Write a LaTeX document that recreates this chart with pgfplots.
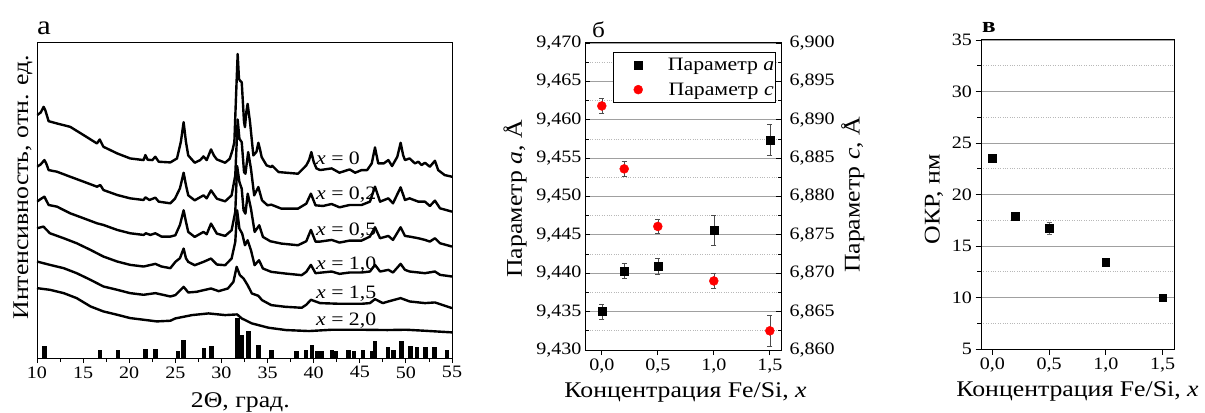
\documentclass[border=0pt]{standalone}
\usepackage{fontspec}
\setmainfont{Liberation Serif}[FakeStretch=1.15]
\usepackage{pgfplots}
\pgfplotsset{compat=1.18}
\pgfplotsset{/pgf/number format/assume math mode=true}
\newcommand\tickfont{\fontsize{17.5}{20}\selectfont}
\newcommand\labfont{\fontsize{22.5}{26}\selectfont}
\newcommand\curvefont{\fontsize{19}{22}\selectfont}
\newcommand\legfont{\fontsize{19}{22}\selectfont}
\definecolor{gmaj}{HTML}{A0A0A0}
\definecolor{gmin}{HTML}{B8B8B8}
\begin{document}
\begin{tikzpicture}
\path[use as bounding box] (0bp,0bp) rectangle (1205bp,413bp);
% ---------------- panel a ----------------
\begin{axis}[at={(37bp,55bp)}, anchor=south west, scale only axis,
  width=415bp, height=316bp, xmin=10, xmax=55, ymin=0, ymax=950,
  xtick={10,15,...,55}, minor x tick num=1, ytick=\empty,
  tick align=outside, xtick pos=bottom,
  major tick length=5bp, minor tick length=4bp,
  axis line style={line width=0.9bp},
  every tick/.style={black, line width=0.8bp},
  tick label style={font=\tickfont},
  xlabel={2Θ, град.}, ylabel={Интенсивность, отн. ед.},
  xlabel style={font=\labfont, at={(axis description cs:0.49,-0.141)}, anchor=center},
  ylabel style={font=\labfont, at={(axis description cs:-0.034,0.54)}, anchor=center},
]
% x = 0
\addplot[black, line width=2.4bp, line join=round] coordinates {
(10.0,730)(10.4,738)(10.72,755)(10.9,745)(11.26,712)(12.17,705)(13.6,695)(15.06,670)
(16.5,645)(16.8,657)(17.2,635)(18.7,615)(20.1,600)(21.56,595)(21.75,610)(22.0,596)
(22.5,595)(22.83,605)(23.2,590)(24.46,588)(25.18,600)(25.6,650)(25.9,709)(26.15,650)
(26.4,609)(27.1,587)(27.7,595)(28.05,606)(28.4,595)(28.87,627)(29.2,608)(29.5,597)
(30.4,587)(30.9,599)(31.2,625)(31.4,649)(31.6,800)(31.76,914)(31.9,840)(32.0,834)
(32.2,829)(32.45,709)(32.55,694)(32.7,740)(32.84,764)(33.0,730)(33.1,709)(33.46,609)
(33.8,620)(34.0,647)(34.2,625)(34.36,604)(34.9,579)(35.4,574)(35.5,578)(36.2,559)
(38.3,554)(39.2,579)(39.5,595)(39.75,619)(40.0,590)(40.3,570)(40.7,565)(41.95,570)
(42.8,557)(43.9,567)(44.5,557)(45.2,565)(45.8,565)(46.3,585)(46.65,633)(47.0,585)
(47.6,585)(48.1,595)(48.5,577)(49.07,605)(49.43,647)(49.7,610)(49.9,595)(50.4,600)
(50.98,585)(51.35,590)(51.7,580)(52.07,587)(52.6,575)(53.15,593)(53.5,565)(54.2,550)(55.0,545)};
% x = 0.2
\addplot[black, line width=2.4bp, line join=round] coordinates {
(10.0,575)(10.4,582)(10.8,595)(11.0,585)(11.26,565)(12.17,560)(13.6,545)(15.06,530)
(16.5,515)(16.87,520)(17.2,505)(18.7,490)(20.1,480)(21.56,475)(21.75,483)(22.2,475)
(22.83,482)(23.2,470)(24.46,465)(24.96,479)(25.5,510)(25.9,557)(26.15,520)(26.4,489)
(27.1,474)(28.05,489)(28.4,480)(28.87,504)(29.5,479)(30.4,471)(31.1,489)(31.5,549)
(31.76,717)(31.95,659)(32.2,649)(32.45,559)(32.6,554)(32.9,619)(33.2,569)(33.55,489)
(34.0,514)(34.4,474)(35.0,459)(35.4,461)(36.5,449)(38.3,449)(39.2,464)(39.7,494)
(40.2,459)(41.0,457)(41.95,463)(42.8,453)(43.9,460)(45.2,460)(46.1,470)(46.65,515)
(47.2,470)(48.1,480)(48.6,465)(49.43,513)(49.9,475)(50.4,480)(51.35,470)(52.07,470)
(52.6,457)(53.15,473)(53.7,450)(55.0,440)};
% x = 0.5
\addplot[black, line width=2.4bp, line join=round] coordinates {
(10.0,470)(10.4,478)(10.8,485)(11.26,460)(12.17,455)(13.6,435)(15.06,420)(16.5,405)
(17.2,400)(18.7,385)(20.1,375)(21.56,370)(21.8,375)(22.3,370)(22.83,375)(23.5,365)
(24.46,365)(25.0,369)(25.5,400)(25.9,444)(26.15,410)(26.4,379)(27.1,364)(28.05,379)
(28.4,372)(28.87,404)(29.5,374)(30.4,367)(31.1,384)(31.5,439)(31.7,577)(31.95,529)
(32.2,509)(32.4,444)(32.6,434)(32.85,494)(33.2,449)(33.6,379)(34.1,399)(34.5,364)
(35.3,351)(36.5,344)(38.3,339)(39.2,351)(39.7,385)(40.2,350)(40.7,350)(41.95,355)
(42.8,347)(43.9,353)(45.2,353)(46.1,365)(46.65,393)(47.2,360)(48.1,367)(48.6,355)
(49.43,393)(49.9,367)(50.4,365)(51.35,360)(52.07,355)(52.6,350)(53.15,360)(53.7,345)(55.0,335)};
% x = 1.0
\addplot[black, line width=2.4bp, line join=round] coordinates {
(10.0,390)(10.7,395)(11.4,375)(12.9,360)(14.3,345)(15.8,325)(17.2,305)(18.7,290)
(20.1,280)(21.56,275)(22.83,283)(23.5,275)(24.46,270)(25.0,289)(25.5,300)(25.9,329)
(26.15,300)(26.4,289)(27.1,279)(28.05,289)(28.87,299)(29.5,281)(30.4,279)(31.1,299)
(31.5,349)(31.7,444)(31.95,389)(32.25,374)(32.55,339)(32.84,354)(33.2,324)(33.6,279)
(34.07,294)(34.5,269)(35.4,259)(36.9,254)(38.7,249)(39.2,259)(39.7,280)(40.2,255)
(41.95,260)(42.8,253)(43.9,257)(45.2,257)(46.1,260)(46.65,280)(47.2,260)(48.1,265)
(48.6,257)(49.43,283)(49.9,265)(50.4,260)(52.07,255)(53.15,260)(53.7,250)(55.0,245)};
% x = 1.5
\addplot[black, line width=2.4bp, line join=round] coordinates {
(10.0,290)(11.4,280)(12.9,270)(14.3,255)(15.8,235)(17.2,215)(18.7,205)(20.1,195)
(21.56,190)(22.83,195)(24.46,185)(25.0,189)(25.9,214)(26.4,197)(27.3,199)(28.87,209)
(29.7,201)(30.7,209)(31.3,229)(31.65,274)(32.0,249)(32.4,239)(32.84,219)(33.3,194)
(34.0,187)(34.4,174)(35.4,159)(36.9,154)(38.7,151)(39.2,160)(39.7,175)(40.7,165)
(42.8,163)(45.2,163)(46.1,165)(46.65,177)(47.5,165)(48.1,170)(49.43,180)(50.4,170)
(52.07,165)(53.15,167)(55.0,150)};
% x = 2.0
\addplot[black, line width=2.4bp, line join=round] coordinates {
(10.0,210)(11.4,205)(12.9,195)(14.3,180)(15.8,155)(17.2,140)(18.7,130)(20.1,120)
(21.56,115)(23.0,110)(24.46,112)(25.0,119)(26.8,129)(28.6,134)(30.4,129)(31.7,131)
(32.2,119)(33.3,104)(35.1,91)(37.0,84)(39.5,81)(42.0,85)(45.0,85)(48.0,84)(50.0,85)
(52.0,82)(55.0,77)};
% reference bars
\addplot[ycomb, no marks, black, line width=4.6bp] coordinates {
(10.83,35)(16.81,25)(18.8,23)(21.77,28)(22.82,27)(25.3,22)(25.86,55)(28.1,29)(28.93,36)
(31.76,120)(32.19,70)(32.91,80)(34.0,40)(35.45,25)(38.17,20)(39.18,25)(39.8,40)
(40.34,22)(40.88,21)(41.97,25)(42.44,22)(43.78,25)(44.39,22)(45.33,25)(46.31,22)
(46.67,50)(48.05,32)(48.66,25)(49.5,52)(50.48,37)(51.2,33)(52.1,33)(53.12,33)(54.46,23)};
\node[anchor=base west, font=\curvefont, inner sep=0pt] at (axis cs:40.25,581) {\textit{x} = 0};
\node[anchor=base west, font=\curvefont, inner sep=0pt] at (axis cs:40.25,476) {\textit{x} = 0,2};
\node[anchor=base west, font=\curvefont, inner sep=0pt] at (axis cs:40.25,368) {\textit{x} = 0,5};
\node[anchor=base west, font=\curvefont, inner sep=0pt] at (axis cs:40.25,266) {\textit{x} = 1,0};
\node[anchor=base west, font=\curvefont, inner sep=0pt] at (axis cs:40.25,179) {\textit{x} = 1,5};
\node[anchor=base west, font=\curvefont, inner sep=0pt] at (axis cs:40.25,98) {\textit{x} = 2,0};
\end{axis}
\node[anchor=base west, inner sep=0pt, font=\fontsize{27}{30}\selectfont] at (37bp,378bp) {а};
% ---------------- panel b ----------------
\begin{axis}[at={(585bp,63bp)}, anchor=south west, scale only axis,
  width=196bp, height=307bp, xmin=-0.15, xmax=1.6, ymin=9.43, ymax=9.47,
  xtick={0,0.5,1,1.5},
  ytick={9.430,9.435,9.440,9.445,9.450,9.455,9.460,9.465,9.470},
  minor y tick num=1, ytick pos=left, xtick pos=bottom,
  ytick align=inside, xtick align=outside,
  major tick length=5bp, minor tick length=3.5bp,
  axis line style={line width=1bp},
  every tick/.style={black, line width=0.8bp},
  ymajorgrids, yminorgrids,
  major grid style={gmaj, line width=0.8bp},
  minor grid style={gmin, dotted, line width=0.7bp},
  tick label style={font=\tickfont},
  yticklabel style={/pgf/number format/.cd, fixed, fixed zerofill, precision=3, use comma},
  xticklabel style={/pgf/number format/.cd, fixed, fixed zerofill, precision=1, use comma},
  xlabel={Концентрация Fe/Si, \textit{x}}, ylabel={Параметр \textit{a}, Å},
  xlabel style={font=\labfont, at={(axis description cs:0.513,-0.138)}, anchor=center},
  ylabel style={font=\labfont, at={(axis description cs:-0.357,0.492)}, anchor=center},
]
\addplot[only marks, mark=square*, mark size=4bp, black, forget plot,
  error bars/.cd, y dir=both, y explicit,
  error bar style={line width=0.6bp, black!70},
  error mark options={rotate=90, mark size=2.5bp, line width=0.6bp, black!70}]
  table[x=x, y=y, y error=e] {
x y e
0.0 9.4350 0.00095
0.2 9.4403 0.0010
0.5 9.4409 0.0010
1.0 9.4456 0.0019
1.5 9.4574 0.0020
};
\end{axis}
\begin{axis}[at={(585bp,63bp)}, anchor=south west, scale only axis,
  width=196bp, height=307bp, xmin=-0.15, xmax=1.6, ymin=6.86, ymax=6.90,
  axis x line=none, axis y line*=right,
  ytick={6.860,6.865,6.870,6.875,6.880,6.885,6.890,6.895,6.900},
  minor y tick num=1, ytick align=inside,
  major tick length=5bp, minor tick length=3.5bp,
  axis line style={line width=1bp},
  every tick/.style={black, line width=0.8bp},
  tick label style={font=\tickfont},
  yticklabel style={xshift=5bp, /pgf/number format/.cd, fixed, fixed zerofill, precision=3, use comma},
  ylabel={Параметр \textit{c}, Å},
  ylabel style={font=\labfont, at={(axis description cs:1.367,0.505)}, anchor=center},
  legend style={at={(axis description cs:0.143,0.971)}, anchor=north west,
    font=\legfont, draw=black, line width=0.8bp, fill=white,
    inner xsep=0bp, inner ysep=3.5bp, row sep=7bp,
    nodes={inner xsep=1.5bp, inner ysep=2bp}},
  legend image code/.code={\node[draw=none, fill=none, inner sep=0pt, minimum width=53bp, minimum height=1bp, anchor=west] at (0bp,0bp) {}; \draw[#1] plot coordinates {(25bp,0bp)};},
]
\addplot[only marks, mark=*, mark size=4.5bp, red, forget plot,
  error bars/.cd, y dir=both, y explicit,
  error bar style={line width=0.6bp, black!70},
  error mark options={rotate=90, mark size=2.5bp, line width=0.6bp, black!70}]
  table[x=x, y=y, y error=e] {
x y e
0.0 6.8918 0.00095
0.2 6.8836 0.0010
0.5 6.8761 0.0009
1.0 6.8690 0.0010
1.5 6.8625 0.0020
};
\addlegendimage{only marks, mark=square*, mark size=4bp, black, line width=0.4bp}
\addlegendentry{Параметр \textit{a}}
\addlegendimage{only marks, mark=*, mark size=4.5bp, red, line width=0.4bp}
\addlegendentry{Параметр \textit{c}}
\end{axis}
\node[anchor=base west, inner sep=0pt, font=\fontsize{22}{26}\selectfont] at (592bp,375bp) {б};
% ---------------- panel c ----------------
\begin{axis}[at={(981bp,64bp)}, anchor=south west, scale only axis,
  width=193bp, height=309bp, xmin=-0.1, xmax=1.6, ymin=5, ymax=35,
  xtick={0,0.5,1,1.5}, ytick={5,10,...,35},
  minor y tick num=1, ytick pos=left, xtick pos=bottom, tick align=outside,
  major tick length=5.5bp, minor tick length=4bp,
  axis line style={line width=1bp},
  every tick/.style={black, line width=0.8bp},
  ymajorgrids, yminorgrids,
  major grid style={gmaj, line width=0.8bp},
  minor grid style={gmin, dotted, line width=0.7bp},
  tick label style={font=\tickfont},
  xticklabel style={/pgf/number format/.cd, fixed, fixed zerofill, precision=1, use comma},
  xlabel={Концентрация Fe/Si, \textit{x}}, ylabel={ОКР, нм},
  xlabel style={font=\labfont, at={(axis description cs:0.5,-0.136)}, anchor=center},
  ylabel style={font=\labfont, at={(axis description cs:-0.244,0.484)}, anchor=center},
]
\addplot[only marks, mark=square*, mark size=3.8bp, black,
  error bars/.cd, y dir=both, y explicit,
  error bar style={line width=0.6bp, black!60},
  error mark options={rotate=90, mark size=2.5bp, line width=0.6bp, black!60}]
  table[x=x, y=y, y error=e] {
x y e
0.0 23.5 0.2
0.2 17.9 0.2
0.5 16.7 0.6
1.0 13.4 0.3
1.5 10.0 0.3
};
\end{axis}
\node[anchor=base west, inner sep=0pt, font=\fontsize{22}{26}\selectfont\bfseries] at (982bp,380bp) {в};
\end{tikzpicture}
\end{document}
